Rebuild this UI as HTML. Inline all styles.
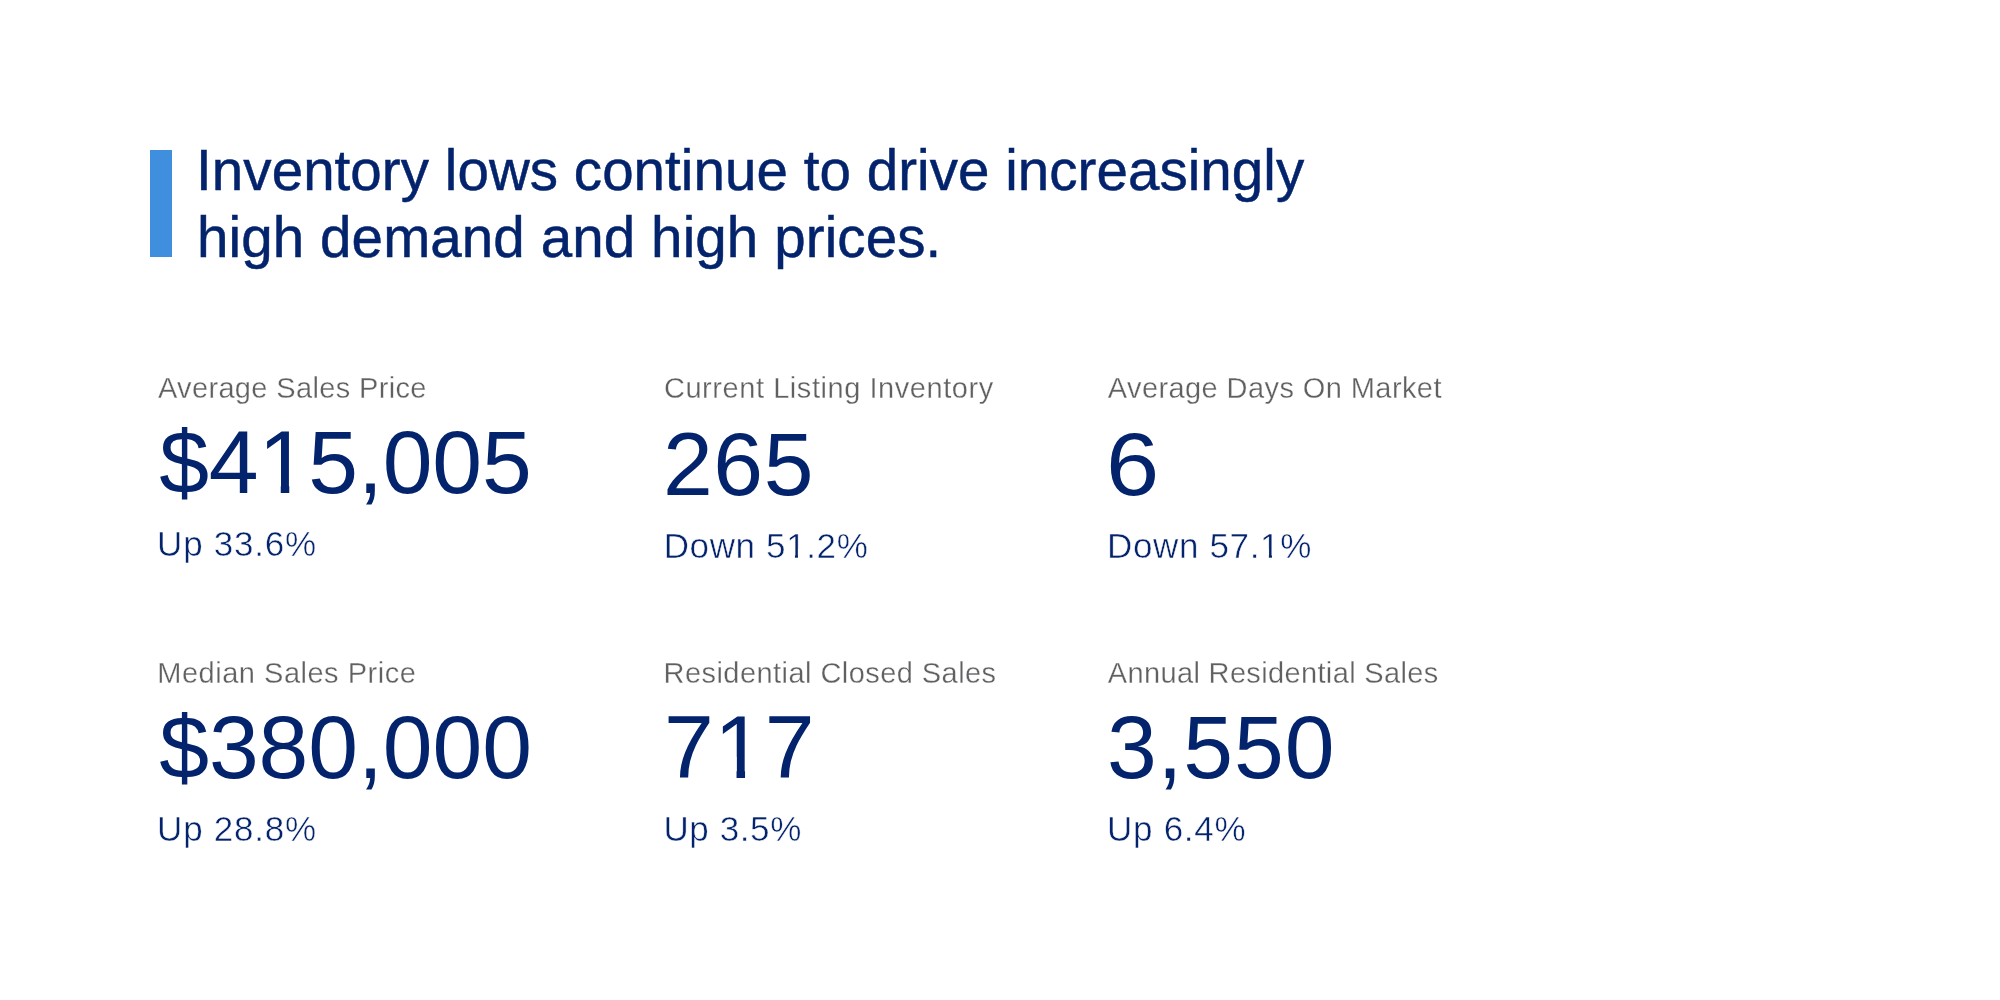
<!DOCTYPE html>
<html>
<head>
<meta charset="utf-8">
<title>Market stats</title>
<style>
html,body{margin:0;padding:0;background:#fff;}
body{width:2000px;height:1000px;position:relative;overflow:hidden;font-family:"Liberation Sans",sans-serif;}
.t{position:absolute;white-space:pre;line-height:1;margin:0;padding:0;font-kerning:normal;}
#bar{position:absolute;left:150px;top:150px;width:22px;height:107px;background:#3f8fde;}
.h{color:#03236c;font-size:56.5px;}
.lab{color:#5f6062;font-size:29px;}
.big{color:#03236c;font-size:89.5px;}
.sub{color:#03236c;font-size:35px;}
.t{transform:translateZ(0);}
.h{-webkit-text-stroke:0.5px #03236c;}
.lab{-webkit-text-stroke:0.3px #fff;}
.sub{-webkit-text-stroke:0.5px #fff;}
.one{display:inline-block;}
#b3{transform:scaleX(1.068);transform-origin:0 0;}
.big .one{clip-path:polygon(0 -10px, 107.40px -10px, 107.40px 54.00px, 30.72px 54.00px, 30.72px 134.25px, 22.21px 134.25px, 22.21px 54.00px, 0 54.00px);}
.sub .one{clip-path:polygon(0 -10px, 42.00px -10px, 42.00px 21.00px, 11.89px 21.00px, 11.89px 52.50px, 8.80px 52.50px, 8.80px 21.00px, 0 21.00px);}
</style>
</head>
<body>
<div id="bar"></div>
<div class="t h" id="h1" style="left:196.1px;top:143px;letter-spacing:0.06px;">Inventory lows continue to drive increasingly</div>
<div class="t h" id="h2" style="left:197.0px;top:210px;letter-spacing:0.11px;">high demand and high prices.</div>
<div class="t lab" id="l1" style="left:157.9px;top:374px;letter-spacing:0.35px;">Average Sales Price</div>
<div class="t lab" id="l2" style="left:663.9px;top:374px;letter-spacing:0.56px;">Current Listing Inventory</div>
<div class="t lab" id="l3" style="left:1107.8px;top:374px;letter-spacing:0.41px;">Average Days On Market</div>
<div class="t lab" id="l4" style="left:157.3px;top:659px;letter-spacing:0.51px;">Median Sales Price</div>
<div class="t lab" id="l5" style="left:663.6px;top:659px;letter-spacing:0.44px;">Residential Closed Sales</div>
<div class="t lab" id="l6" style="left:1107.8px;top:659px;letter-spacing:0.35px;">Annual Residential Sales</div>
<div class="t big" id="b1" style="left:159.2px;top:418px;letter-spacing:-0.10px;">$4<span class="one">1</span>5,005</div>
<div class="t big" id="b2" style="left:662.9px;top:420px;letter-spacing:0.63px;">265</div>
<div class="t big" id="b3" style="left:1106.0px;top:420px;letter-spacing:0.00px;">6</div>
<div class="t big" id="b4" style="left:159.2px;top:703px;letter-spacing:-0.08px;">$380,000</div>
<div class="t big" id="b5" style="left:664.0px;top:703px;letter-spacing:0.55px;">7<span class="one">1</span>7</div>
<div class="t big" id="b6" style="left:1106.9px;top:703px;letter-spacing:0.89px;">3,550</div>
<div class="t sub" id="s1" style="left:157.1px;top:526px;letter-spacing:0.76px;">Up 33.6%</div>
<div class="t sub" id="s2" style="left:663.7px;top:528px;letter-spacing:0.63px;">Down 5<span class="one">1</span>.2%</div>
<div class="t sub" id="s3" style="left:1107.1px;top:528px;letter-spacing:0.64px;">Down 57.<span class="one">1</span>%</div>
<div class="t sub" id="s4" style="left:157.1px;top:811px;letter-spacing:0.76px;">Up 28.8%</div>
<div class="t sub" id="s5" style="left:663.4px;top:811px;letter-spacing:0.61px;">Up 3.5%</div>
<div class="t sub" id="s6" style="left:1107.1px;top:811px;letter-spacing:0.71px;">Up 6.4%</div>
</body>
</html>
